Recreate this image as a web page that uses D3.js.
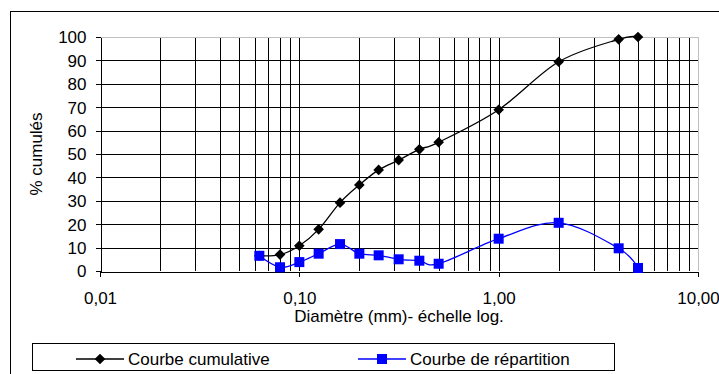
<!DOCTYPE html>
<html>
<head>
	<meta charset='utf-8'>
	<title>Courbe granulométrique</title>
	<style>
		body { margin: 0; background: #fff; }
		svg text { font-family: 'Liberation Sans', Arial, sans-serif; font-size: 17px; fill: #000; }
		.grid line { stroke: #000; stroke-width: 1; shape-rendering: crispEdges; }
		.axis path, .axis line { stroke: #000; shape-rendering: crispEdges; }
		.cumul { fill: none; stroke: #000; stroke-width: 1.3px; }
		.repart { fill: none; stroke: #0000ff; stroke-width: 1.3px; }
	</style>
</head>
<body>
<script src='https://d3js.org/d3.v7.min.js'></script>
<script>
	'use strict';
	// tamis (mm) et valeurs
	const diametres = [0.063, 0.08, 0.1, 0.125, 0.16, 0.2, 0.25, 0.315, 0.4, 0.5, 1, 2, 4, 5];
	const cumules = [6.5, 7, 10.8, 17.8, 29.2, 36.8, 43.2, 47.4, 52, 55, 68.9, 89.4, 99, 100];
	const repartition = [6.5, 1.6, 3.8, 7.4, 11.5, 7.4, 6.7, 5.0, 4.4, 3.1, 13.8, 20.6, 9.7, 1.3];
	const xTicks = [0.01, 0.1, 1, 10];
	const yTicks = [0, 10, 20, 30, 40, 50, 60, 70, 80, 90, 100];
	const legende = ['Courbe cumulative', 'Courbe de répartition'];

	const W = 719, H = 374;
	const pl = 100, pr = 698, pt = 37, pb = 271;

	const x = d3.scaleLog().domain([0.01, 10]).range([pl, pr]);
	const y = d3.scaleLinear().domain([0, 100]).range([pb, pt]);

	const svg = d3.select('body').append('svg')
		.attr('width', W)
		.attr('height', H);

	// cadre extérieur
	svg.append('rect')
		.attr('x', 10.5).attr('y', 11.5)
		.attr('width', 720).attr('height', 400)
		.attr('fill', 'none').attr('stroke', '#000');

	// quadrillage
	const minor = [];
	for (let dec = 0.01; dec < 9; dec *= 10) {
		for (let k = 1; k <= 9; k++) {
			const v = +(dec * k).toPrecision(3);
			if (v > 0.01) minor.push(v);
		}
	}
	const grid = svg.append('g').attr('class', 'grid');
	grid.selectAll('.v').data(minor).enter().append('line')
		.attr('x1', d => Math.round(x(d)) + 0.5).attr('x2', d => Math.round(x(d)) + 0.5)
		.attr('y1', pt).attr('y2', pb);
	grid.selectAll('.h').data(yTicks.slice(1, -1)).enter().append('line')
		.attr('x1', pl).attr('x2', pr)
		.attr('y1', d => Math.round(y(d)) + 0.5).attr('y2', d => Math.round(y(d)) + 0.5);

	// bord de la zone de tracé (haut et droite en gris)
	svg.append('path')
		.attr('d', 'M' + pl + ',' + (pt + 0.5) + 'H' + (pr + 0.5) + 'V' + pb)
		.attr('fill', 'none').attr('stroke', '#c0c0c0').attr('shape-rendering', 'crispEdges');

	// axes
	svg.append('g')
		.attr('class', 'axis')
		.attr('transform', 'translate(0,' + (pb + 0.5) + ')')
		.call(d3.axisBottom(x).tickValues(xTicks).tickSize(5).tickSizeOuter(0)
			.tickFormat(d => d3.format('.2f')(d).replace('.', ',')))
		.call(g => g.selectAll('text').attr('dy', null).attr('y', 32))
		.call(g => g.attr('font-family', null).attr('font-size', null));

	svg.append('g')
		.attr('class', 'axis')
		.attr('transform', 'translate(' + (pl + 0.5) + ',0)')
		.call(d3.axisLeft(y).tickValues(yTicks).tickSize(5).tickSizeOuter(0).tickPadding(9))
		.call(g => g.selectAll('text').attr('dy', '0.35em'))
		.call(g => g.attr('font-family', null).attr('font-size', null));

	// titres
	svg.append('text')
		.attr('x', (pl + pr) / 2).attr('y', 322)
		.attr('text-anchor', 'middle')
		.text('Diamètre (mm)- échelle log.');

	svg.append('text')
		.attr('transform', 'translate(42,' + ((pt + pb) / 2) + ') rotate(-90)')
		.attr('text-anchor', 'middle')
		.text('% cumulés');

	// courbes lissées
	const lineC = d3.line()
		.x((d, i) => x(diametres[i]))
		.y(d => y(d))
		.curve(d3.curveCardinal.tension(0));

	svg.append('path').datum(cumules).attr('class', 'cumul').attr('d', lineC);
	svg.append('path').datum(repartition).attr('class', 'repart').attr('d', lineC);

	const diamond = d3.symbol().type(d3.symbolDiamond2).size(72);

	svg.selectAll('.pc').data(cumules).enter().append('path')
		.attr('d', diamond)
		.attr('transform', (d, i) => 'translate(' + x(diametres[i]) + ',' + y(d) + ')')
		.attr('fill', '#000');

	svg.selectAll('.pr').data(repartition).enter().append('rect')
		.attr('x', (d, i) => x(diametres[i]) - 5)
		.attr('y', d => y(d) - 5)
		.attr('width', 10).attr('height', 10)
		.attr('fill', '#0000ff');

	// légende
	const leg = svg.append('g');
	leg.append('rect')
		.attr('x', 32.5).attr('y', 343.5)
		.attr('width', 582).attr('height', 27)
		.attr('fill', '#fff').attr('stroke', '#000');

	const items = [
		{x0: 76, x1: 124, cls: 'cumul'},
		{x0: 358, x1: 406, cls: 'repart'}
	];
	items.forEach((it, i) => {
		leg.append('line')
			.attr('x1', it.x0).attr('x2', it.x1)
			.attr('y1', 359).attr('y2', 359)
			.attr('class', it.cls);
		const cx = (it.x0 + it.x1) / 2;
		if (i === 0) {
			leg.append('path').attr('d', diamond)
				.attr('transform', 'translate(' + cx + ',359)').attr('fill', '#000');
		} else {
			leg.append('rect').attr('x', cx - 5).attr('y', 354)
				.attr('width', 10).attr('height', 10).attr('fill', '#0000ff');
		}
		leg.append('text')
			.attr('x', it.x1 + 4).attr('y', 365)
			.text(legende[i]);
	});
</script>
</body>
</html>
